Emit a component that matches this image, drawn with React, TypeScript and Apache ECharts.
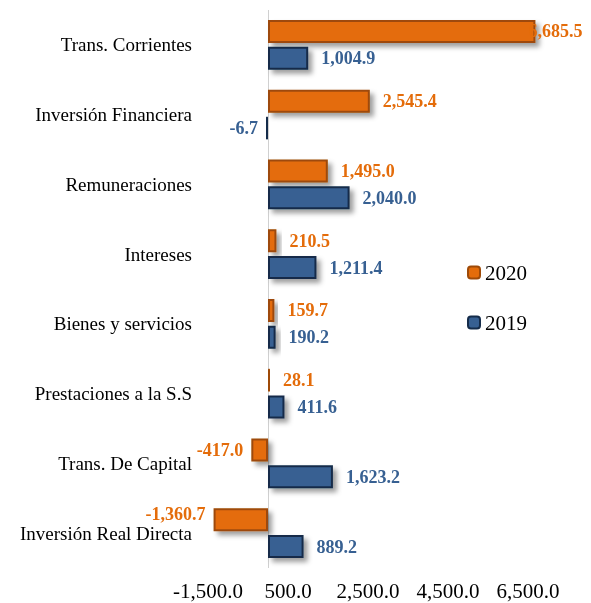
import React, { useEffect, useRef } from "react";
import * as echarts from "echarts";

const categories = [
  "Trans. Corrientes",
  "Inversión Financiera",
  "Remuneraciones",
  "Intereses",
  "Bienes y servicios",
  "Prestaciones a la S.S",
  "Trans. De Capital",
  "Inversión Real Directa",
];
const values2020 = [6685.5, 2545.4, 1495.0, 210.5, 159.7, 28.1, -417.0, -1360.7];
const values2019 = [1004.9, -6.7, 2040.0, 1211.4, 190.2, 411.6, 1623.2, 889.2];
const seriesNames = ["2020", "2019"];
const axisMin = -1500;
const axisMax = 6500;
const axisInterval = 2000;

const FONT = "Liberation Serif";
const ORANGE = "#E46C0A";
const ORANGE_BORDER = "#9E4A08";
const BLUE = "#376092";
const BLUE_BORDER = "#152C4A";

const fmt = (v: number) =>
  v.toLocaleString("en-US", { minimumFractionDigits: 1, maximumFractionDigits: 1 });

function buildData(values: number[]) {
  return values.map((v) => {
    const overflow = v > axisMax;
    const tiny = Math.abs(v) < 100;
    const item: any = {
      value: v,
      label: {
        position: v < 0 ? "left" : "right",
        distance: overflow ? -7 : v < 0 ? 8 : 13,
        offset: v < -1000 ? [0, -6] : [0, 0],
      },
    };
    if (tiny) {
      item.itemStyle = { shadowBlur: 0, shadowOffsetX: 0, shadowOffsetY: 0, shadowColor: "rgba(0,0,0,0)", borderWidth: 1 };
    }
    return item;
  });
}

export default function App() {
  const ref = useRef<HTMLDivElement>(null);
  useEffect(() => {
    if (!ref.current) return;
    const chart = echarts.init(ref.current, null, { renderer: "svg" });
    const makeSeries = (name: string, values: number[], color: string, border: string, withLine: boolean) => ({
      name,
      type: "bar",
      data: buildData(values),
      barWidth: 23,
      barGap: "17%",
      barMinHeight: 2,
      clip: false,
      itemStyle: {
        color,
        borderColor: border,
        borderWidth: 2,
        shadowColor: "rgba(0,0,0,0.38)",
        shadowBlur: 5,
        shadowOffsetX: 4,
        shadowOffsetY: 4,
      },
      label: {
        show: true,
        formatter: (p: any) => fmt(p.value),
        color,
        fontFamily: FONT,
        fontWeight: "bold",
        fontSize: 18,
      },
      markLine: withLine
        ? {
            silent: true,
            symbol: "none",
            label: { show: false },
            lineStyle: { color: "#d0d0d0", width: 1, type: "solid" },
            data: [{ xAxis: 0 }],
            z: 1,
          }
        : undefined,
    });
    chart.setOption({
      animation: false,
      grid: { left: 208, right: 63, top: 10, bottom: 35, containLabel: false },
      legend: {
        orient: "vertical",
        left: 462,
        top: 257,
        itemWidth: 12,
        itemHeight: 12,
        itemGap: 29,
        data: seriesNames,
        textStyle: { fontFamily: FONT, fontSize: 21, color: "#000" },
      },
      xAxis: {
        type: "value",
        min: axisMin,
        max: axisMax,
        interval: axisInterval,
        axisLine: { show: false },
        axisTick: { show: false },
        splitLine: { show: false },
        axisLabel: {
          formatter: (v: number) => fmt(v),
          fontFamily: FONT,
          fontSize: 21,
          color: "#000",
          margin: 12,
        },
      },
      yAxis: {
        type: "category",
        data: categories,
        inverse: true,
        axisLine: { show: false },
        axisTick: { show: false },
        axisLabel: {
          fontFamily: FONT,
          fontSize: 19,
          color: "#000",
          margin: 16,
        },
      },
      series: [
        makeSeries(seriesNames[0], values2020, ORANGE, ORANGE_BORDER, true),
        makeSeries(seriesNames[1], values2019, BLUE, BLUE_BORDER, false),
      ],
    });
    return () => chart.dispose();
  }, []);
  return <div ref={ref} style={{ position: "fixed", left: 0, top: 0, width: 591, height: 603 }} />;
}
